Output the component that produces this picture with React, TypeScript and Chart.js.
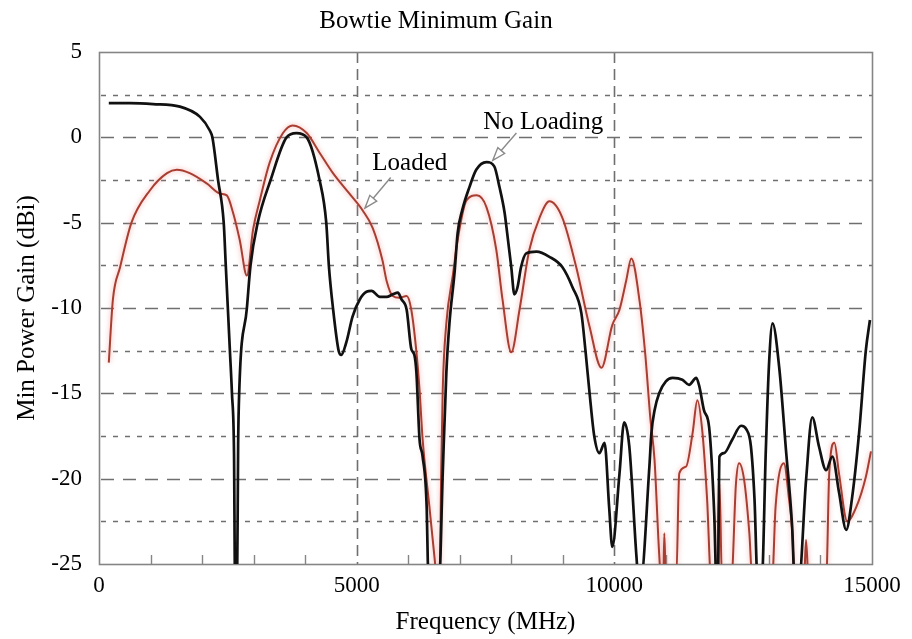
import { useEffect, useRef } from 'react';
import { Chart, registerables } from 'chart.js';

Chart.register(...registerables);

// Bowtie minimum gain vs. frequency, unloaded and loaded antenna
const noLoadFreq = [
  190, 600, 1050, 1570, 1960, 2150, 2200, 2310, 2420, 2460, 2500, 2540, 2580, 2620, 2640, 2680,
  2700, 2720, 2870, 2940, 3080, 3330, 3640, 3830, 4030, 4280, 4410, 4460, 4540, 4650, 4700,
  4800, 4920, 5060, 5190, 5290, 5450, 5580, 5700, 5800, 5870, 5970, 6060, 6120, 6160, 6220,
  6280, 6360, 6380, 6420, 6600, 6670, 6740, 6800, 6900, 6960, 7050, 7190, 7320, 7520, 7670,
  7770, 7870, 7920, 8000, 8060, 8120, 8190, 8290, 8490, 8740, 8990, 9190, 9360, 9440, 9520,
  9610, 9710, 9810, 9900, 9960, 10100, 10190, 10290, 10430, 10470, 10510, 10680, 10720, 10780,
  10870, 11000, 11130, 11320, 11450, 11590, 11650, 11740, 11840, 11940, 11980, 12010, 12040,
  12130, 12290, 12460, 12560, 12650, 12720, 12780, 12860, 12940, 13000, 13070, 13200, 13330,
  13450, 13500, 13580, 13720, 13840, 13970, 14110, 14230, 14360, 14500, 14610, 14750, 14880,
  14960,
];
const noLoadGain = [
  2.0, 2.0, 1.95, 1.8, 1.2, 0.4, 0.0, -2.5, -5.0, -7.5, -10.0, -12.5, -15.0, -18.5, -26, -26,
  -18.0, -15.0, -10.0, -7.5, -5.0, -2.5, 0.0, 0.25, 0.0, -2.5, -5.0, -7.5, -10.0, -12.5, -12.75,
  -12.0, -10.5, -9.5, -9.05, -9.0, -9.35, -9.35, -9.2, -9.1, -9.5, -10.1, -12.4, -12.75, -13.8,
  -17.7, -18.7, -21.8, -24.8, -26, -26, -19.7, -13.8, -10.9, -7.9, -5.6, -4.25, -2.9, -1.9,
  -1.45, -1.7, -2.9, -4.4, -5.6, -7.6, -9.2, -8.8, -7.6, -6.8, -6.7, -7.0, -7.6, -8.8, -10.3,
  -12.5, -15.0, -17.5, -18.5, -17.9, -21.7, -24.0, -19.7, -16.7, -18.1, -24.6, -26, -26, -19.3,
  -17.3, -16.0, -15.0, -14.3, -14.1, -14.2, -14.5, -14.1, -14.6, -16.0, -17.0, -22.2, -26, -26,
  -18.7, -18.5, -17.7, -16.9, -17.1, -18.1, -21.2, -26, -26, -18.3, -13.4, -10.9, -13.5, -18.3,
  -22.8, -26, -26, -20.1, -16.4, -18.1, -19.5, -18.7, -20.8, -23.0, -21.2, -17.3, -12.5, -10.7,
];

const loadedFreq = [
  190, 270, 410, 630, 990, 1320, 1510, 1760, 2090, 2350, 2480, 2600, 2730, 2870, 2990, 3120,
  3310, 3570, 3760, 4030, 4280, 4540, 4860, 5120, 5310, 5500, 5580, 5700, 5830, 5970, 6060,
  6160, 6220, 6280, 6410, 6510, 6560, 6610, 6640, 6670, 6740, 6870, 6960, 7130, 7330, 7520,
  7710, 7830, 8000, 8160, 8350, 8550, 8740, 8990, 9260, 9520, 9750, 9960, 10100, 10230, 10330,
  10490, 10600, 10700, 10780, 10870, 10910, 10950, 10970, 11000, 11200, 11260, 11390, 11520,
  11610, 11710, 11800, 11880, 11990, 12040, 12090, 12270, 12360, 12420, 12520, 12620, 12680,
  13060, 13130, 13290, 13390, 13450, 13500, 13680, 13720, 13770, 14110, 14170, 14270, 14360,
  14520, 14690, 14880, 14980,
];
const loadedGain = [
  -13.2, -9.5, -7.6, -5.0, -3.1, -2.1, -1.9, -2.1, -2.7, -3.3, -3.4, -4.4, -6.0, -8.1, -5.4,
  -3.7, -1.5, 0.25, 0.7, 0.25, -0.9, -2.1, -3.3, -4.3, -5.3, -7.2, -8.4, -9.3, -9.4, -9.3,
  -10.1, -12.6, -14.8, -17.7, -21.6, -24.6, -26, -26, -19.7, -14.8, -10.9, -8.0, -6.0, -3.7,
  -3.4, -4.1, -6.6, -9.5, -12.6, -10.1, -6.6, -4.7, -3.75, -4.7, -7.6, -11.1, -13.5, -11.0,
  -10.1, -8.4, -7.1, -9.6, -12.7, -16.5, -18.9, -24.4, -26, -26, -23.2, -26, -26, -19.7, -19.3,
  -17.3, -15.4, -17.3, -21.2, -26, -26, -20.3, -26, -26, -20.3, -19.1, -20.1, -23.2, -26, -26,
  -21.6, -19.1, -21.2, -23.0, -26, -26, -23.6, -26, -26, -19.7, -17.9, -19.7, -22.5, -21.7,
  -19.9, -18.4,
];

// Axis ticks and grid positions
const freqTicks = [0, 5000, 10000, 15000];
const freqGridLines = [5000, 10000];
const freqMinorTicks = [1000, 2000, 3000, 4000, 6000, 7000, 8000, 9000, 11000, 12000, 13000, 14000];
const gainTicks = [5, 0, -5, -10, -15, -20, -25];
const gainMajorLines = [0, -5, -10, -15, -20];
const gainMinorLines = [2.5, -2.5, -7.5, -12.5, -17.5, -22.5];

// Arrow callouts, positioned in data units (MHz, dBi)
const callouts = [
  { text: 'Loaded', label: [6030, -1.55], tail: [5660, -2.35], tip: [5160, -4.15] },
  { text: 'No Loading', label: [8620, 0.9], tail: [8100, 0.25], tip: [7640, -1.35] },
];

const SERIF = "'Liberation Serif', 'Times New Roman', serif";

const gridPlugin = {
  id: 'dashedGrid',
  beforeDatasetsDraw(chart: any) {
    const { ctx, chartArea: a, scales } = chart;
    const x = scales.x;
    const y = scales.y;
    ctx.save();
    ctx.strokeStyle = '#6f6f6f';
    ctx.lineWidth = 1.6;
    ctx.setLineDash([13, 9]);
    for (const v of gainMajorLines) {
      const py = Math.round(y.getPixelForValue(v)) + 0.5;
      ctx.beginPath();
      ctx.moveTo(a.left + 2, py);
      ctx.lineTo(a.right - 4, py);
      ctx.stroke();
    }
    ctx.setLineDash([5, 7]);
    for (const v of gainMinorLines) {
      const py = Math.round(y.getPixelForValue(v)) + 0.5;
      ctx.beginPath();
      ctx.moveTo(a.left + 2, py);
      ctx.lineTo(a.right, py);
      ctx.stroke();
    }
    ctx.setLineDash([11, 6]);
    for (const v of freqGridLines) {
      const px = Math.round(x.getPixelForValue(v)) + 0.5;
      ctx.beginPath();
      ctx.moveTo(px, a.top);
      ctx.lineTo(px, a.bottom);
      ctx.stroke();
    }
    ctx.setLineDash([]);
    ctx.strokeStyle = '#858585';
    ctx.lineWidth = 1.4;
    for (const v of freqMinorTicks) {
      const px = Math.round(x.getPixelForValue(v)) + 0.5;
      ctx.beginPath();
      ctx.moveTo(px, a.bottom);
      ctx.lineTo(px, a.bottom - 9);
      ctx.stroke();
    }
    ctx.lineWidth = 1.6;
    ctx.strokeRect(a.left + 0.5, a.top + 0.5, a.right - a.left, a.bottom - a.top);
    ctx.restore();
  },
};

const haloPlugin = {
  id: 'loadedHalo',
  beforeDatasetDraw(chart: any, args: any) {
    if (args.index !== 1) return;
    chart.ctx.save();
    chart.ctx.shadowColor = 'rgba(235, 130, 125, 0.7)';
    chart.ctx.shadowBlur = 5;
  },
  afterDatasetDraw(chart: any, args: any) {
    if (args.index !== 1) return;
    chart.ctx.restore();
  },
};

const calloutPlugin = {
  id: 'callouts',
  afterDatasetsDraw(chart: any) {
    const { ctx, scales } = chart;
    const px = (p: number[]) => [scales.x.getPixelForValue(p[0]), scales.y.getPixelForValue(p[1])];
    ctx.save();
    for (const c of callouts) {
      const [tx, ty] = px(c.tail);
      const [hx, hy] = px(c.tip);
      const ang = Math.atan2(hy - ty, hx - tx);
      const len = 13;
      const half = 4.5;
      const bx = hx - len * Math.cos(ang);
      const by = hy - len * Math.sin(ang);
      ctx.strokeStyle = '#8a8a8a';
      ctx.lineWidth = 1.4;
      ctx.beginPath();
      ctx.moveTo(tx, ty);
      ctx.lineTo(bx, by);
      ctx.stroke();
      ctx.beginPath();
      ctx.moveTo(hx, hy);
      ctx.lineTo(bx + half * Math.sin(ang), by - half * Math.cos(ang));
      ctx.lineTo(bx - half * Math.sin(ang), by + half * Math.cos(ang));
      ctx.closePath();
      ctx.fillStyle = '#ffffff';
      ctx.fill();
      ctx.stroke();
      const [lx, ly] = px(c.label);
      ctx.fillStyle = '#000000';
      ctx.font = `25px ${SERIF}`;
      ctx.textAlign = 'center';
      ctx.textBaseline = 'middle';
      ctx.fillText(c.text, lx, ly);
    }
    ctx.restore();
  },
};

export default function App() {
  const canvasRef = useRef<HTMLCanvasElement | null>(null);

  useEffect(() => {
    const canvas = canvasRef.current;
    if (!canvas) return;
    const chart = new Chart(canvas, {
      type: 'line',
      data: {
        datasets: [
          {
            label: 'No Loading',
            data: noLoadFreq.map((f, i) => ({ x: f, y: noLoadGain[i] })),
            borderColor: '#111111',
            borderWidth: 2.7,
            pointRadius: 0,
            cubicInterpolationMode: 'monotone',
          },
          {
            label: 'Loaded',
            data: loadedFreq.map((f, i) => ({ x: f, y: loadedGain[i] })),
            borderColor: '#a83e31',
            borderWidth: 2,
            pointRadius: 0,
            cubicInterpolationMode: 'monotone',
          },
        ],
      },
      options: {
        responsive: false,
        animation: false,
        layout: { padding: { left: 0, right: 40, top: 0, bottom: 0 } },
        plugins: {
          legend: { display: false },
          tooltip: { enabled: false },
          title: {
            display: true,
            text: 'Bowtie Minimum Gain',
            color: '#000000',
            font: { family: SERIF, size: 25, weight: 'normal' },
            padding: { top: 6, bottom: 16 },
          },
        },
        scales: {
          x: {
            type: 'linear',
            min: 0,
            max: 15000,
            afterBuildTicks: (s: any) => {
              s.ticks = freqTicks.map((v) => ({ value: v }));
            },
            afterFit: (s: any) => {
              s.height = 75;
            },
            grid: { display: false, drawTicks: false },
            border: { display: false },
            ticks: {
              color: '#000000',
              font: { family: SERIF, size: 23 },
              padding: 8,
              maxRotation: 0,
              autoSkip: false,
              callback: (v: any) => String(v),
            },
            title: {
              display: true,
              text: 'Frequency (MHz)',
              color: '#000000',
              font: { family: SERIF, size: 25 },
              padding: { top: 0, bottom: 2 },
            },
          },
          y: {
            type: 'linear',
            min: -25,
            max: 5,
            afterBuildTicks: (s: any) => {
              s.ticks = gainTicks.map((v) => ({ value: v }));
            },
            afterFit: (s: any) => {
              s.width = 99;
            },
            grid: { display: false, drawTicks: false },
            border: { display: false },
            ticks: {
              color: '#000000',
              font: { family: SERIF, size: 23 },
              padding: 17,
              autoSkip: false,
              callback: (v: any) => String(v),
            },
            title: {
              display: true,
              text: 'Min Power Gain (dBi)',
              color: '#000000',
              font: { family: SERIF, size: 25 },
              padding: { top: 12, bottom: 0 },
            },
          },
        },
      } as any,
      plugins: [gridPlugin, haloPlugin, calloutPlugin],
    });
    return () => chart.destroy();
  }, []);

  return (
    <div style={{ position: 'fixed', left: 0, top: 0, width: 912, height: 639, background: '#ffffff' }}>
      <canvas ref={canvasRef} width={912} height={639} style={{ display: 'block' }} />
    </div>
  );
}
